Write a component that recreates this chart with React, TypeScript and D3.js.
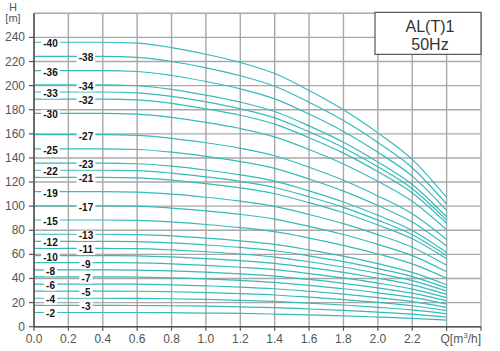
import * as d3 from "d3";

const W = 500;
const H = 351;

// flow rate points (m³/h)
const flows = [0, 0.4, 0.6, 0.8, 1.0, 1.2, 1.4, 1.6, 1.8, 2.0, 2.2, 2.4];

// stage counts, top curve first
const stages = [40, 38, 36, 34, 33, 32, 30, 27, 25, 23, 22, 21, 19, 17, 15, 13, 12, 11, 10, 9, 8, 7, 6, 5, 4, 3, 2];

// head (m) for each stage curve at the flows above
const heads = [
  [236, 236, 235.2, 231.6, 226, 219.2, 210, 196, 180, 160.8, 138.8, 107.2],
  [224.2, 224.2, 223.4, 220, 214.7, 208.2, 199.5, 186.2, 171, 152.8, 131.9, 101.8],
  [212.4, 212.4, 211.7, 208.4, 203.4, 197.3, 189, 176.4, 162, 144.7, 124.9, 96.5],
  [200.6, 200.6, 199.9, 196.9, 192.1, 186.3, 178.5, 166.6, 153, 136.7, 118, 91.1],
  [194.7, 194.7, 194, 191.1, 186.5, 180.8, 173.3, 161.7, 148.5, 132.7, 114.5, 88.4],
  [188.8, 188.8, 188.2, 185.3, 180.8, 175.4, 168, 156.8, 144, 128.6, 111, 85.8],
  [177, 177, 176.4, 173.7, 169.5, 164.4, 157.5, 147, 135, 120.6, 104.1, 80.4],
  [159.3, 159.3, 158.8, 156.3, 152.6, 148, 141.8, 132.3, 121.5, 108.5, 93.7, 72.4],
  [147.5, 147.5, 147, 144.8, 141.3, 137, 131.3, 122.5, 112.5, 100.5, 86.8, 67],
  [135.7, 135.7, 135.2, 133.2, 130, 126, 120.8, 112.7, 103.5, 92.5, 79.8, 61.6],
  [129.8, 129.8, 129.4, 127.4, 124.3, 120.6, 115.5, 107.8, 99, 88.4, 76.3, 59],
  [123.9, 123.9, 123.5, 121.6, 118.7, 115.1, 110.3, 102.9, 94.5, 84.4, 72.9, 56.3],
  [112.1, 112.1, 111.7, 110, 107.4, 104.1, 99.8, 93.1, 85.5, 76.4, 65.9, 50.9],
  [100.3, 100.3, 100, 98.4, 96.1, 93.2, 89.3, 83.3, 76.5, 68.3, 59, 45.6],
  [88.5, 88.5, 88.2, 86.9, 84.8, 82.2, 78.8, 73.5, 67.5, 60.3, 52.1, 40.2],
  [76.7, 76.7, 76.4, 75.3, 73.5, 71.2, 68.3, 63.7, 58.5, 52.3, 45.1, 34.8],
  [70.8, 70.8, 70.6, 69.5, 67.8, 65.8, 63, 58.8, 54, 48.2, 41.6, 32.2],
  [64.9, 64.9, 64.7, 63.7, 62.2, 60.3, 57.8, 53.9, 49.5, 44.2, 38.2, 29.5],
  [59, 59, 58.8, 57.9, 56.5, 54.8, 52.5, 49, 45, 40.2, 34.7, 26.8],
  [53.1, 53.1, 52.9, 52.1, 50.9, 49.3, 47.3, 44.1, 40.5, 36.2, 31.2, 24.1],
  [47.2, 47.2, 47, 46.3, 45.2, 43.8, 42, 39.2, 36, 32.2, 27.8, 21.4],
  [41.3, 41.3, 41.2, 40.5, 39.6, 38.4, 36.8, 34.3, 31.5, 28.1, 24.3, 18.8],
  [35.4, 35.4, 35.3, 34.7, 33.9, 32.9, 31.5, 29.4, 27, 24.1, 20.8, 16.1],
  [29.5, 29.5, 29.4, 29, 28.3, 27.4, 26.3, 24.5, 22.5, 20.1, 17.4, 13.4],
  [23.6, 23.6, 23.5, 23.2, 22.6, 21.9, 21, 19.6, 18, 16.1, 13.9, 10.7],
  [17.7, 17.7, 17.6, 17.4, 17, 16.4, 15.8, 14.7, 13.5, 12.1, 10.4, 8],
  [11.8, 11.8, 11.8, 11.6, 11.3, 11, 10.5, 9.8, 9, 8, 6.9, 5.4],
];

const xTicks = [0, 0.2, 0.4, 0.6, 0.8, 1.0, 1.2, 1.4, 1.6, 1.8, 2.0, 2.2];
const yTicks = [0, 20, 40, 60, 80, 100, 120, 140, 160, 180, 200, 220, 240];

const LINE = "#36baba";
const GRID = "#a8a8a8";
const FONT = "Liberation Sans, Arial, sans-serif";

export default function App() {
  const x = d3.scaleLinear().domain([0, 2.6]).range([34, 481]);
  const y = d3.scaleLinear().domain([0, 260]).range([326.7, 13.3]);

  const line = d3
    .line<number>()
    .x((_, i) => x(flows[i]))
    .y((d) => y(d))
    .curve(d3.curveMonotoneX);

  const gridX = d3.range(0, 2.61, 0.2);
  const gridY = d3.range(0, 261, 20);

  return (
    <svg width={W} height={H} style={{ position: "absolute", left: 0, top: 0, background: "#fff" }} fontFamily={FONT}>
      {/* grid */}
      {gridX.map((q, i) => (
        <line key={"gx" + i} x1={x(q)} x2={x(q)} y1={y(0)} y2={y(260)} stroke={GRID} strokeWidth={1.4} />
      ))}
      {gridY.map((h, i) => (
        <line key={"gy" + i} x1={x(0)} x2={x(2.6)} y1={y(h)} y2={y(h)} stroke={GRID} strokeWidth={1.4} />
      ))}

      {/* curves */}
      {heads.map((hs, i) => (
        <path key={"c" + i} d={line(hs) ?? ""} fill="none" stroke={LINE} strokeWidth={1.2} />
      ))}

      {/* stage labels, alternating columns */}
      {stages.map((s, i) => {
        const cx = i % 2 === 0 ? 50.5 : 86;
        const cy = y(heads[i][0]) + 1.5;
        const label = "-" + s;
        const w = label.length * 5.6 + 2;
        return (
          <g key={"l" + i}>
            <rect x={cx - w / 2} y={cy - 5} width={w} height={10} fill="#fff" />
            <text x={cx} y={cy} textAnchor="middle" dominantBaseline="central" fontSize={10} fontWeight="bold" fill="#111">
              {label}
            </text>
          </g>
        );
      })}

      {/* axes */}
      <line x1={x(0)} x2={x(0)} y1={y(0)} y2={y(260)} stroke="#555" strokeWidth={1.6} />
      <line x1={x(0)} x2={x(2.6)} y1={y(0)} y2={y(0)} stroke="#555" strokeWidth={1.6} />
      {yTicks.map((t) => (
        <g key={"yt" + t}>
          <line x1={x(0) - 5} x2={x(0)} y1={y(t)} y2={y(t)} stroke="#555" strokeWidth={1.2} />
          <text x={x(0) - 9} y={y(t)} textAnchor="end" dominantBaseline="central" fontSize={12} fill="#555">
            {t}
          </text>
        </g>
      ))}
      {gridX.map((q, i) => (
        <line key={"xt" + i} x1={x(q)} x2={x(q)} y1={y(0)} y2={y(0) + 4} stroke="#555" strokeWidth={1.2} />
      ))}
      {xTicks.map((t) => (
        <text key={"xl" + t} x={x(t)} y={338.5} textAnchor="middle" dominantBaseline="central" fontSize={12} fill="#555">
          {t.toFixed(1)}
        </text>
      ))}
      <text x={481} y={338.5} textAnchor="end" dominantBaseline="central" fontSize={12} fill="#555">
        Q[m<tspan dy={-4} fontSize={8}>3</tspan>
        <tspan dy={4}>/h]</tspan>
      </text>
      <text x={13} y={11} textAnchor="middle" fontSize={11} fill="#555">H</text>
      <text x={13} y={22} textAnchor="middle" fontSize={11} fill="#555">[m]</text>

      {/* title box */}
      <rect x={375} y={12.3} width={106} height={42} fill="#fff" stroke="#333" strokeWidth={1} />
      <text x={430} y={31.5} textAnchor="middle" fontSize={16} fill="#333">AL(T)1</text>
      <text x={430} y={50} textAnchor="middle" fontSize={16} fill="#333">50Hz</text>
    </svg>
  );
}
